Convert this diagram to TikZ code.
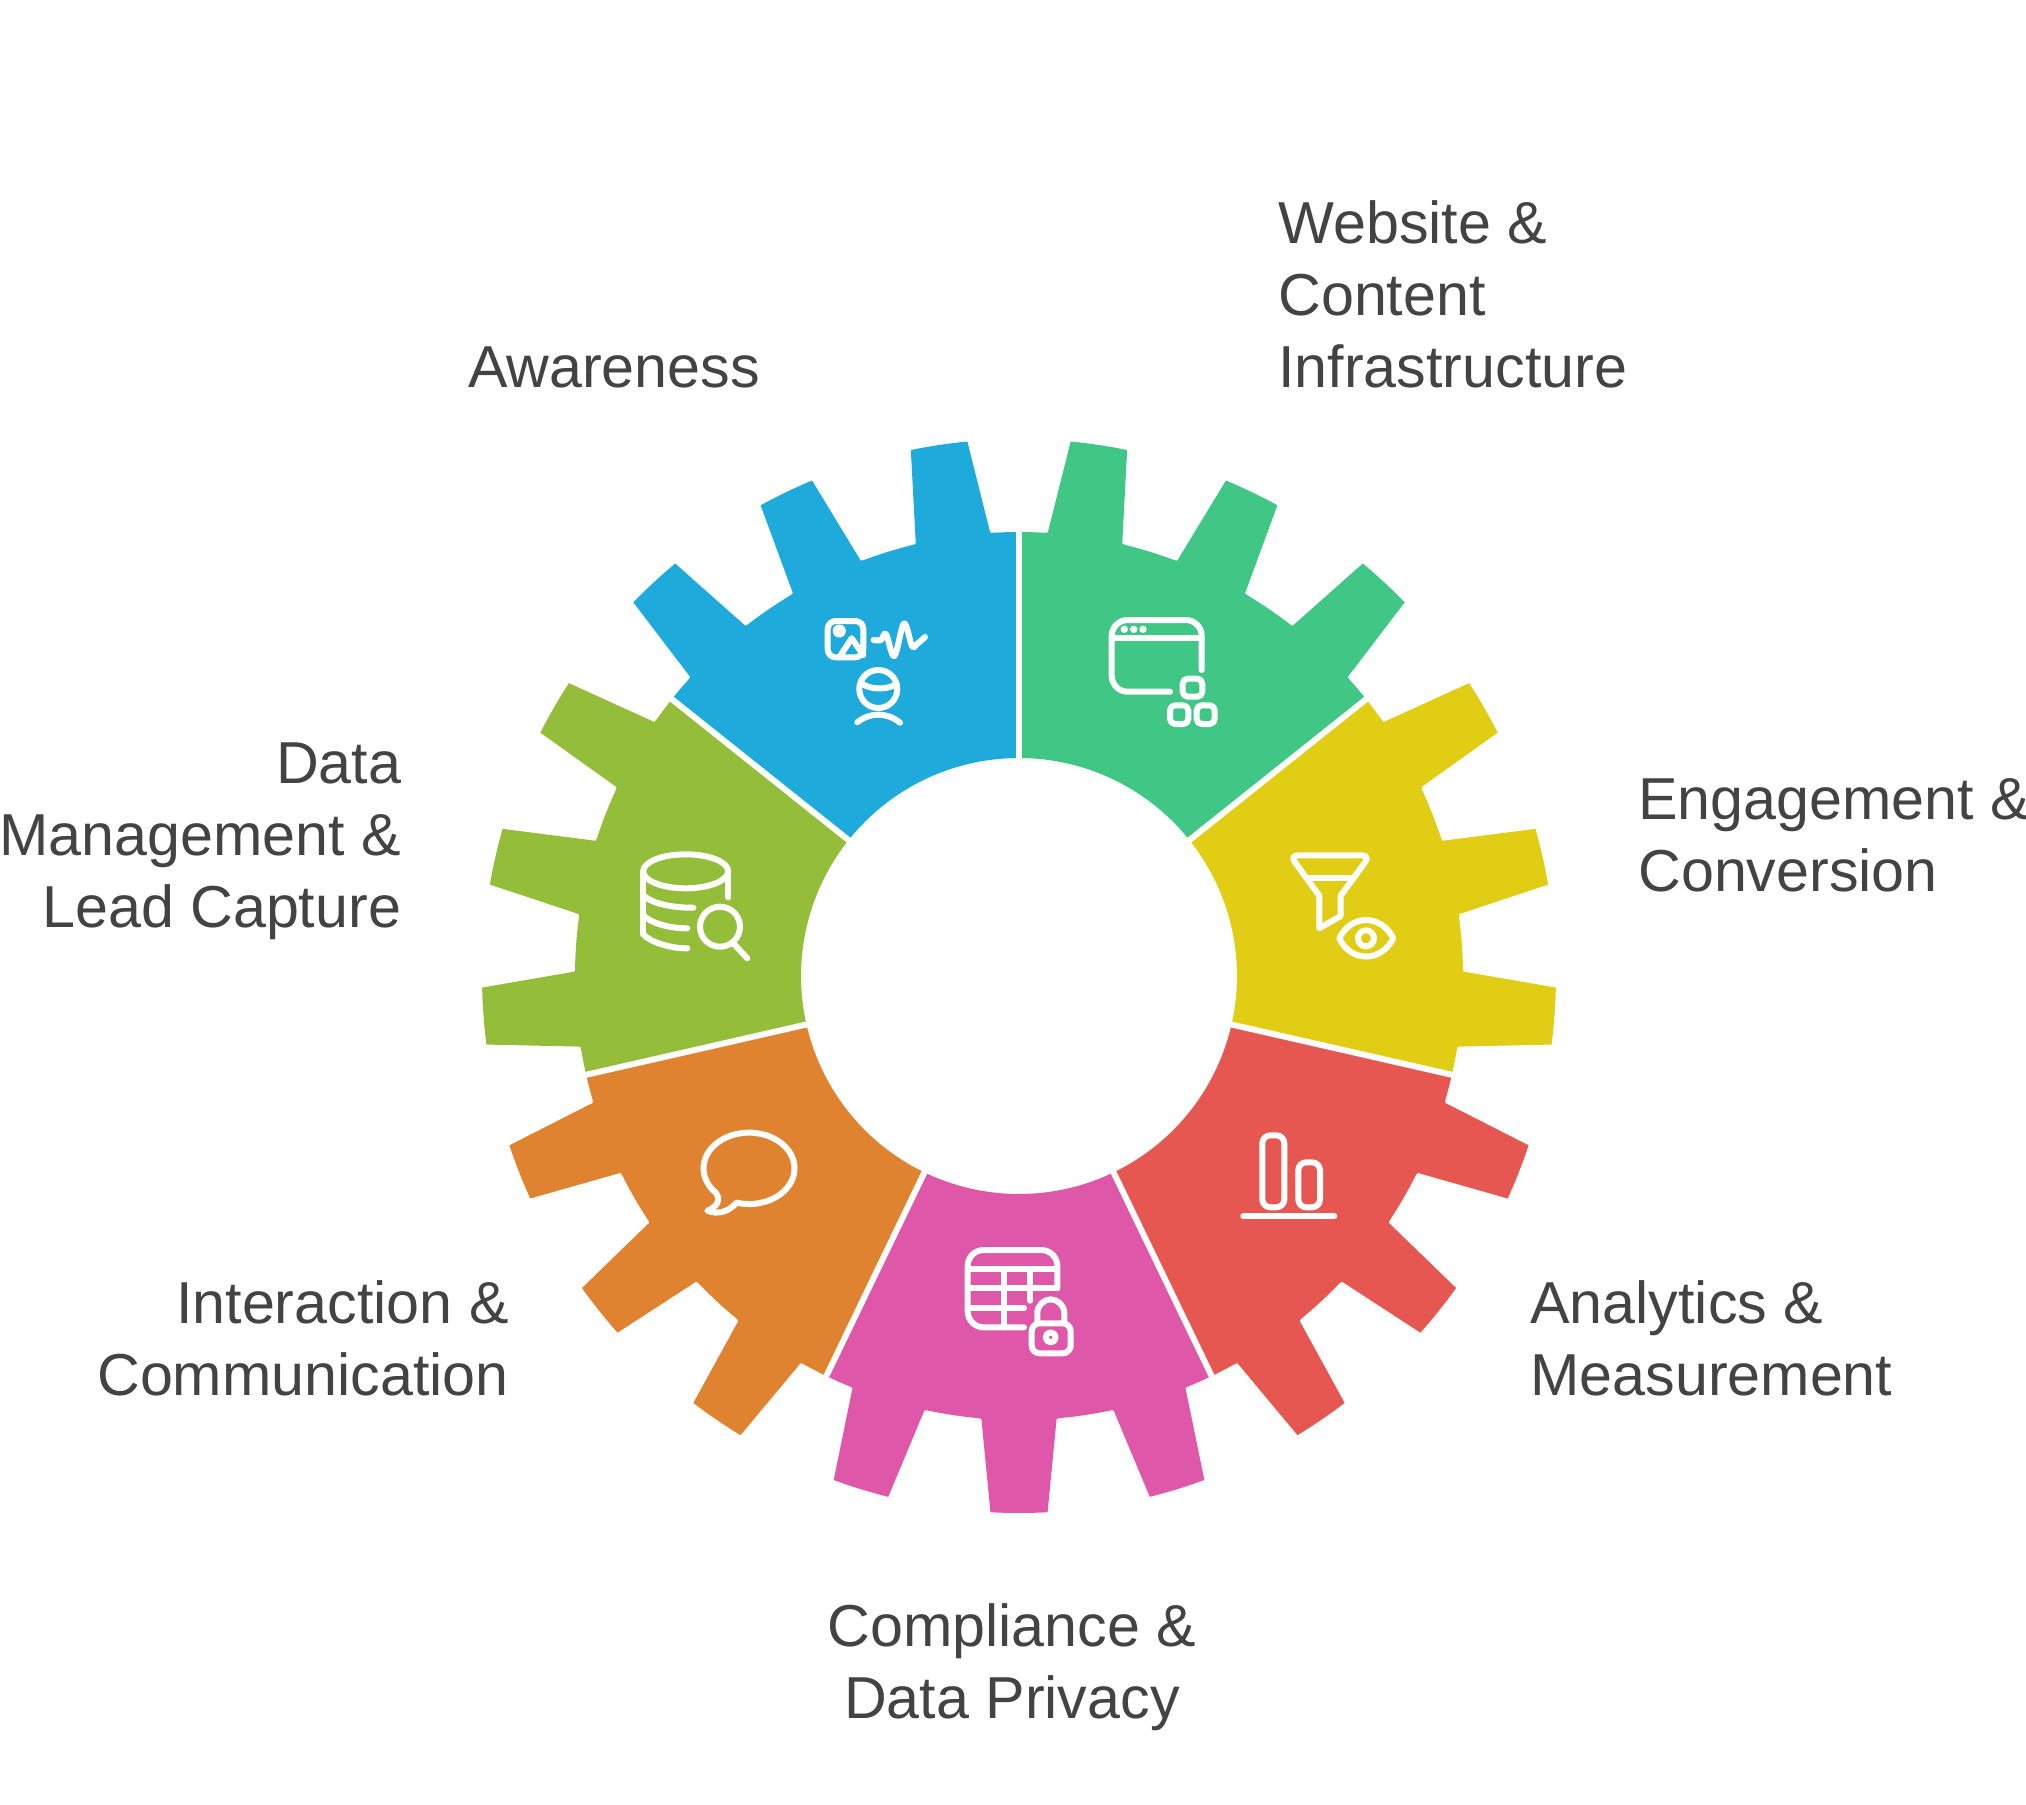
\documentclass[tikz,border=0pt]{standalone}
\usepackage{fontspec}
\setmainfont{Liberation Sans}
\definecolor{cblue}{RGB}{30,171,219}
\definecolor{cgreen}{RGB}{64,198,133}
\definecolor{cyellow}{RGB}{224,205,20}
\definecolor{cred}{RGB}{230,87,82}
\definecolor{cpink}{RGB}{222,87,168}
\definecolor{corange}{RGB}{224,131,49}
\definecolor{clime}{RGB}{148,190,58}
\definecolor{ctext}{RGB}{67,67,67}
\newcommand\gearseg[2]{%
  \fill[#1] (#2:218) -- (#2:444)
  \foreach \c in {8.571,25.714,42.857}{
    arc[start angle={#2-\c+8.571},delta angle=-3.321,radius=444]
    .. controls ({#2-\c+4.85}:444) .. ({#2-\c+4.79}:447.3)
    -- ({#2-\c+3.05}:537)
    arc[start angle={#2-\c+3.05},delta angle=-6.1,radius=537]
    -- ({#2-\c-4.79}:447.3)
    .. controls ({#2-\c-4.85}:444) .. ({#2-\c-5.25}:444)
    arc[start angle={#2-\c-5.25},delta angle=-3.321,radius=444]
  }
  -- ({#2-51.4286}:218)
  arc[start angle={#2-51.4286},delta angle=51.4286,radius=218] -- cycle;
}
\tikzset{
  icon/.style={draw=white,line width=3pt,line cap=round,line join=round},
  lab/.style={text=ctext,inner sep=0pt,font=\fontsize{29.6}{36}\selectfont}
}
\begin{document}
\begin{tikzpicture}[x=0.5pt,y=-0.5pt]
\useasboundingbox (0,0) rectangle (2026,1805);
% gear
\begin{scope}[y=0.5pt,shift={(1019,-976)}]
  \gearseg{cgreen}{90}
  \gearseg{cyellow}{38.5714}
  \gearseg{cred}{-12.8571}
  \gearseg{cpink}{-64.2857}
  \gearseg{corange}{-115.7143}
  \gearseg{clime}{-167.1429}
  \gearseg{cblue}{141.4286}
  \foreach \a in {90,38.5714,-12.8571,-64.2857,-115.7143,-167.1429,141.4286}
    \draw[white,line width=3pt] (\a:205) -- (\a:470);
\end{scope}
% icon: awareness
\draw[icon,rounded corners=4] (827.7,621) rectangle (863.3,657.3);
\draw[icon] (839.3,631) circle[radius=3.7];
\draw[icon] (839.3,657.3) -- (851.7,638.3) -- (863.3,655);
\draw[icon] plot[smooth,tension=0.6] coordinates {(873.5,640) (881,640) (886,634) (894.3,656) (904,623.5) (912,646) (917,644) (925,637)};
\draw[icon] (878.3,689) circle[radius=19];
\draw[icon] (861.7,683.3) .. controls (870,690) and (887,690) .. (896.7,684);
\draw[icon] (857.3,722.3) .. controls (870,712) and (887,712) .. (900,722.7);
% icon: website
\draw[icon,rounded corners=8] (1201.7,670) -- (1201.7,620) -- (1111.7,620) -- (1111.7,691.7) -- (1170,691.7);
\draw[icon] (1111.7,638.3) -- (1201.7,638.3);
\fill[white] (1124.3,629.3) circle[radius=3.7] (1133.7,629.3) circle[radius=3.7] (1143,629.3) circle[radius=3.7];
\draw[icon,rounded corners=2.5] (1182.7,678.7) rectangle (1202.3,696.7);
\draw[icon,rounded corners=2.5] (1170,705.3) rectangle (1188.3,724);
\draw[icon,rounded corners=2.5] (1196.7,705.3) rectangle (1214.7,724);
% icon: funnel and eye
\draw[icon,rounded corners=4] (1319.3,895.7) -- (1289.9,855.3) -- (1370.1,855.3) -- (1340.7,895.7);
\draw[icon] (1319.3,895.7) -- (1319.3,928.3) -- (1340.7,916) -- (1340.7,895.7);
\draw[icon] (1310,877.7) -- (1350,877.7);
\draw[icon] (1339.3,938.3) .. controls (1351,914) and (1381,914) .. (1393.3,938.3) .. controls (1381,962.6) and (1351,962.6) .. (1339.3,938.3) -- cycle;
\draw[icon] (1366,938.3) circle[radius=8];
% icon: bars
\draw[icon,rounded corners=4] (1262.3,1135.3) rectangle (1284.3,1207.3);
\draw[icon,rounded corners=4] (1298.3,1162.3) rectangle (1320,1207.3);
\draw[icon] (1243.3,1216.3) -- (1334.3,1216.3);
% icon: table and lock
\draw[icon,rounded corners=8] (1057.3,1288.3) -- (1057.3,1250) -- (967.7,1250) -- (967.7,1327.3) -- (1024,1327.3);
\draw[icon] (967.7,1269) -- (1057.3,1269);
\draw[icon] (967.7,1288.3) -- (1057.3,1288.3);
\draw[icon] (967.7,1308.3) -- (1024,1308.3);
\draw[icon] (1004.3,1269) -- (1004.3,1327.3);
\draw[icon] (1030.3,1269) -- (1030.3,1300.7);
\draw[icon,rounded corners=4] (1031.7,1323.3) rectangle (1070.7,1353.3);
\draw[icon] (1037.3,1323) -- (1037.3,1313) .. controls (1037.3,1305.5) and (1044,1299.3) .. (1050.8,1299.3) .. controls (1057.6,1299.3) and (1064.3,1305.5) .. (1064.3,1313) -- (1064.3,1323);
\draw[icon] (1050.7,1337.3) circle[radius=5];
% icon: speech bubble
\begin{scope}[y=0.5pt]
\draw[icon] (736.7,-1202.7) arc[start angle=-105.7,end angle=217.4,x radius=45.5,y radius=35.7]
  .. controls (720,-1195) and (721.7,-1205) .. (707.3,-1210.7)
  .. controls (718.3,-1215) and (728.3,-1211.7) .. (736.7,-1202.7);
\end{scope}
% icon: database
\draw[icon] (685.7,871.3) circle[x radius=42.5,y radius=17];
\draw[icon] (728.3,871.3) -- (728.3,897.3);
\draw[icon] (643.3,871.3) -- (643.3,934.3);
\draw[icon] (643.3,895) .. controls (650,903) and (672,908) .. (693.3,907.7);
\draw[icon] (643.3,915) .. controls (650,923) and (670,928.5) .. (687.3,928.3);
\draw[icon] (643.3,934.3) .. controls (650,942) and (670,948.5) .. (687.3,948.3);
\draw[icon] (720,926.7) circle[radius=20];
\draw[icon] (733.3,943.3) -- (747.3,958.3);
% labels
\node[lab,anchor=base west,align=left] (t1) at (467.7,387.5) {Awareness};
\node[lab,anchor=base west,align=left] (t2) at (1278,387.5) {Website \&\\Content\\Infrastructure};
\node[lab,anchor=base west,align=left] (t3) at (1638,891.5) {Engagement \&\\Conversion};
\node[lab,anchor=base west,align=left] (t4) at (1530,1395.5) {Analytics \&\\Measurement};
\node[lab,anchor=base,align=center] (t5) at (1012,1718.5) {Compliance \&\\Data Privacy};
\node[lab,anchor=base east,align=right] (t6) at (509,1395.5) {Interaction \&\\Communication};
\node[lab,anchor=base east,align=right] (t7) at (401.5,927.5) {Data\\Management \&\\Lead Capture};
\end{tikzpicture}
\end{document}
